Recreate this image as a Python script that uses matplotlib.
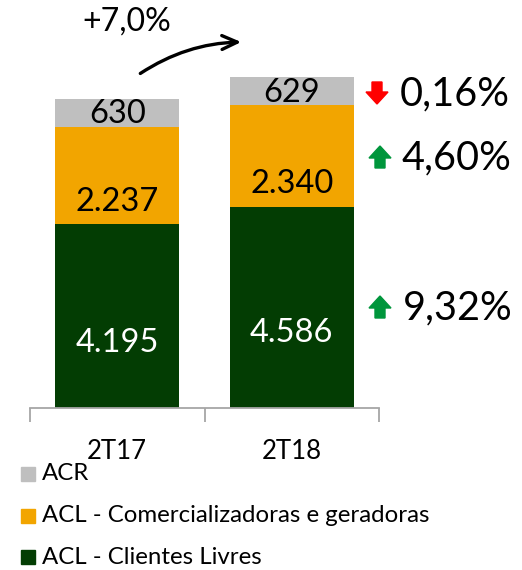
import matplotlib
matplotlib.use("Agg")
import matplotlib.pyplot as plt
from matplotlib.patches import Polygon, FancyArrowPatch
import numpy as np

categories = ["2T17", "2T18"]
acl_livres = [4195, 4586]
acl_comerc = [2237, 2340]
acr = [630, 629]
value_labels_livres = ["4.195", "4.586"]
value_labels_comerc = ["2.237", "2.340"]
value_labels_acr = ["630", "629"]
legend_labels = ["ACR", "ACL - Comercializadoras e geradoras", "ACL - Clientes Livres"]
changes = ["0,16%", "4,60%", "9,32%"]
change_dirs = ["down", "up", "up"]
total_change = "+7,0%"

C_GREEN = "#033D03"
C_ORANGE = "#F2A500"
C_GREY = "#BFBFBF"

plt.rcParams['font.family'] = ['Lato', 'DejaVu Sans']

W, H = 522, 570
fig = plt.figure(figsize=(W / 100, H / 100), dpi=100)
ax = fig.add_axes([30 / W, 1 - 408 / H, 349 / W, 350 / H])
x = np.arange(len(categories))
bw = 0.71
ax.bar(x, acl_livres, bw, color=C_GREEN)
ax.bar(x, acl_comerc, bw, bottom=acl_livres, color=C_ORANGE)
b2 = np.array(acl_livres) + np.array(acl_comerc)
ax.bar(x, acr, bw, bottom=b2, color=C_GREY)
ax.set_xlim(-0.5, 1.5)
ax.set_ylim(0, 8000)

fracs_l = [0.355, 0.375]
for i in range(2):
    ax.text(x[i], acl_livres[i] * fracs_l[i], value_labels_livres[i], ha='center', va='center',
            color='white', fontsize=23.5)
    ax.text(x[i], acl_livres[i] + acl_comerc[i] * 0.23, value_labels_comerc[i], ha='center', va='center',
            color='black', fontsize=23.5)
    ax.text(x[i], b2[i] + acr[i] * 0.45, value_labels_acr[i], ha='center', va='center',
            color='black', fontsize=23.5)

for s in ['top', 'right', 'left']:
    ax.spines[s].set_visible(False)
ax.spines['bottom'].set_color('#A6A6A6')
ax.spines['bottom'].set_linewidth(1.3)
ax.set_yticks([])
ax.set_xticks([-0.5, 0.5, 1.5], minor=False)
ax.set_xticklabels([])
ax.tick_params(axis='x', length=10, width=1.3, color='#A6A6A6', direction='out')
for i, c in enumerate(categories):
    ax.text(x[i], -0.125, c, transform=ax.get_xaxis_transform(), ha='center', va='center', fontsize=18.5)

# legend
colors = [C_GREY, C_ORANGE, C_GREEN]
ys = [474, 516, 557]
for lab, col, yy in zip(legend_labels, colors, ys):
    fig.patches.append(plt.Rectangle((21 / W, 1 - (yy + 7) / H), 14 / W, 14 / H, color=col,
                                     transform=fig.transFigure))
    fig.text(42 / W, 1 - yy / H, lab, ha='left', va='center', fontsize=17.3)

# change annotations
cy = [93, 157, 307]
cxs = [400, 402, 403]
for txt, d, yy, tx in zip(changes, change_dirs, cy, cxs):
    fig.text(tx / W, 1 - (yy + 1) / H, txt, ha='left', va='center', fontsize=28.5)
    if d == "down":
        cx = 377
        pts = [(cx - 5, yy - 11), (cx + 5, yy - 11), (cx + 5, yy - 1), (cx + 11, yy - 1),
               (cx, yy + 11), (cx - 11, yy - 1), (cx - 5, yy - 1)]
        col = "#FF0000"
    else:
        cx = 380
        pts = [(cx - 5, yy + 11), (cx + 5, yy + 11), (cx + 5, yy + 1), (cx + 11, yy + 1),
               (cx, yy - 11), (cx - 11, yy + 1), (cx - 5, yy + 1)]
        col = "#00963C"
    fig.patches.append(Polygon([(px / W, 1 - py / H) for px, py in pts], closed=True,
                               color=col, transform=fig.transFigure))

fig.text(127 / W, 1 - 22 / H, total_change, ha='center', va='center', fontsize=23)
fig.patches.append(FancyArrowPatch(
    (138 / W, 1 - 75 / H), (244 / W, 1 - 42 / H), transform=fig.transFigure,
    connectionstyle="arc3,rad=-0.15", arrowstyle="->,head_length=11,head_width=5",
    mutation_scale=1, color='black', lw=2.4, capstyle='round', joinstyle='round'))

fig.savefig("out.png", dpi=100)
